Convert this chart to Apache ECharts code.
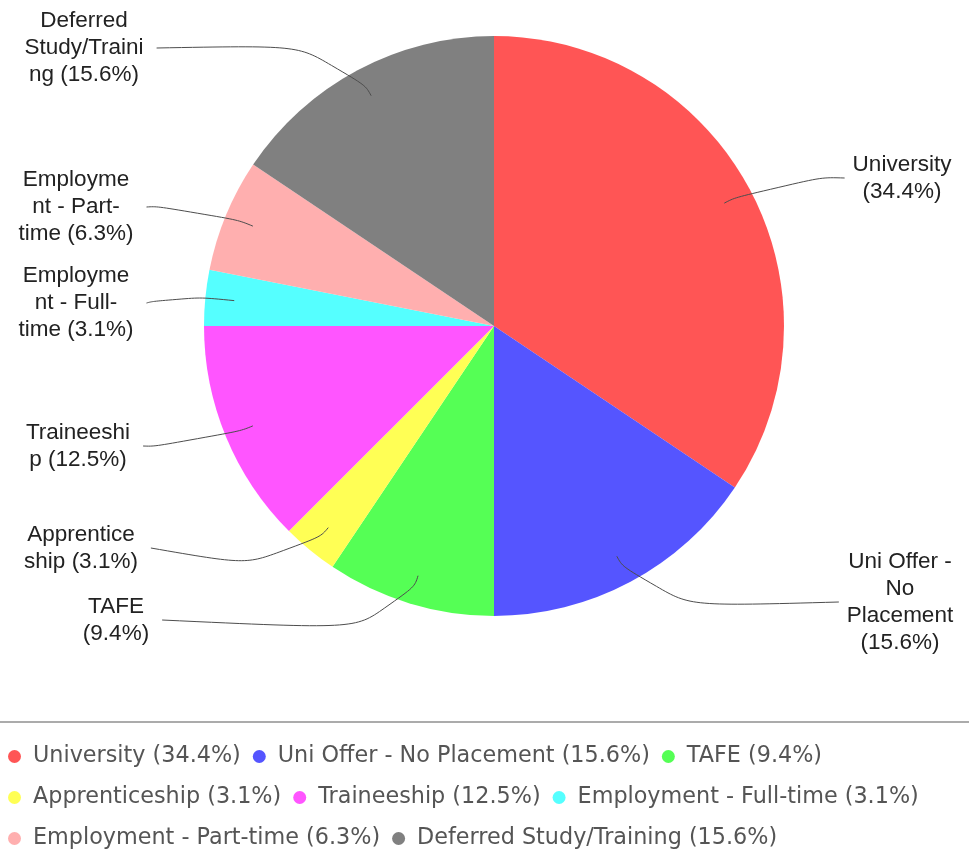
<!DOCTYPE html>
<html>
<head>
<meta charset="utf-8">
<script src="https://cdn.jsdelivr.net/npm/echarts@6/dist/echarts.min.js"></script>
<style>
  html, body { margin: 0; padding: 0; background: #ffffff; }
  #chart { width: 969px; height: 854px; }
</style>
</head>
<body>
<div id="chart"></div>
<script>
// ---- data ----
const categories = [
  'University',
  'Uni Offer - No Placement',
  'TAFE',
  'Apprenticeship',
  'Traineeship',
  'Employment - Full-time',
  'Employment - Part-time',
  'Deferred Study/Training'
];
const percents = [34.4, 15.6, 9.4, 3.1, 12.5, 3.1, 6.3, 15.6];
// wrapped slice label texts (as shown beside the pie)
const sliceLabels = [
  'University\n(34.4%)',
  'Uni Offer -\nNo\nPlacement\n(15.6%)',
  'TAFE\n(9.4%)',
  'Apprentice\nship (3.1%)',
  'Traineeshi\np (12.5%)',
  'Employme\nnt - Full-\ntime (3.1%)',
  'Employme\nnt - Part-\ntime (6.3%)',
  'Deferred\nStudy/Traini\nng (15.6%)'
];

// ---- styles / layout ----
const colors = ['#FF5555', '#5555FF', '#55FF55', '#FFFF55', '#FF55FF', '#55FFFF', '#FFAFAF', '#808080'];
const labelCenterX = [902, 900, 116, 81, 78, 76, 76, 84];
const labelCenterY = [178, 602, 620, 548, 446, 303, 207, 48];
const PIE_CENTER = [494, 326];
const PIE_RADIUS = 290;

const chart = echarts.init(document.getElementById('chart'), null, { renderer: 'canvas' });

function labelLayout(params) {
  const i = params.dataIndex;
  let cx = PIE_CENTER[0], cy = PIE_CENTER[1], r = PIE_RADIUS, dx, dy;
  try {
    const lay = chart.getModel().getSeriesByIndex(params.seriesIndex).getData().getItemLayout(i);
    const mid = (lay.startAngle + lay.endAngle) / 2;
    dx = Math.cos(mid); dy = Math.sin(mid);
    cx = lay.cx; cy = lay.cy; r = lay.r;
  } catch (e) {
    const p = params.labelLinePoints[0];
    const len = Math.hypot(p[0] - cx, p[1] - cy);
    dx = (p[0] - cx) / len; dy = (p[1] - cy) / len;
  }
  const inner = [cx + r * 0.9 * dx, cy + r * 0.9 * dy];
  const outer = [cx + r * 1.1 * dx, cy + r * 1.1 * dy];
  const x = labelCenterX[i], y = labelCenterY[i];
  const w = params.labelRect.width;
  const endX = dx > 0 ? x - w / 2 - 8 : x + w / 2 + 13;
  return {
    x: x, y: y, align: 'center', verticalAlign: 'middle',
    labelLinePoints: [inner, outer, [endX, y]]
  };
}

const pieData = categories.map(function (c, i) { return { name: c, value: percents[i] }; });

const option = {
  animation: false,
  backgroundColor: '#ffffff',
  color: colors,
  legend: {
    show: true,
    left: 3,
    right: 0,
    top: 737,
    orient: 'horizontal',
    icon: 'circle',
    itemWidth: 13,
    itemHeight: 13,
    itemGap: 12,
    selectedMode: false,
    data: categories,
    formatter: function (name) {
      const i = categories.indexOf(name);
      return name + ' (' + percents[i] + '%)';
    },
    textStyle: {
      fontFamily: 'DejaVu Sans',
      fontSize: 22.3,
      color: '#555555',
      lineHeight: 29,
      padding: [0, 0, 0, 7]
    }
  },
  graphic: [{
    type: 'line',
    shape: { x1: 0, y1: 722, x2: 969, y2: 722 },
    style: { stroke: '#8f8f8f', lineWidth: 1.5 },
    silent: true
  }],
  series: [{
    // coloured slices
    type: 'pie',
    z: 2,
    center: PIE_CENTER,
    radius: PIE_RADIUS,
    startAngle: 90,
    clockwise: true,
    emphasis: { disabled: true },
    itemStyle: { borderWidth: 0 },
    label: { show: false },
    labelLine: { show: false },
    data: pieData
  }, {
    // same slices, transparent, carrying labels and guide lines drawn above
    type: 'pie',
    z: 4,
    center: PIE_CENTER,
    radius: PIE_RADIUS,
    startAngle: 90,
    clockwise: true,
    silent: true,
    avoidLabelOverlap: false,
    emphasis: { disabled: true },
    itemStyle: { color: 'rgba(0,0,0,0)', borderWidth: 0 },
    label: {
      show: true,
      position: 'outside',
      formatter: function (p) { return sliceLabels[p.dataIndex]; },
      fontFamily: 'Liberation Sans',
      fontSize: 22.5,
      lineHeight: 27,
      color: '#222222',
      align: 'center'
    },
    labelLine: {
      show: true,
      showAbove: true,
      length: 10,
      length2: 10,
      smooth: 0.8,
      lineStyle: { color: '#4d4d4d', width: 1 }
    },
    labelLayout: labelLayout,
    data: pieData
  }]
};

chart.setOption(option);
</script>
</body>
</html>
